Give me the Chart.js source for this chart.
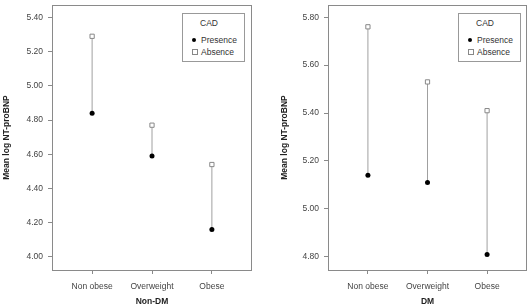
<!DOCTYPE html>
<html>
<head>
<meta charset="utf-8">
<script src="https://cdn.jsdelivr.net/npm/chart.js@4/dist/chart.umd.min.js"></script>
<style>
  body { margin: 0; background: #fff; }
  #wrap { position: relative; width: 532px; height: 307px; }
  #wrap canvas { position: absolute; top: 0; }
  .legend { position: absolute; top: 13px; width: 61px; height: 47px; border: 1px solid #999; background: #fff;
    font: 8.5px "Liberation Sans", Arial, sans-serif; color: #333; }
  .legend .ttl { position: absolute; left: 17px; top: 4px; }
  .legend .row { position: absolute; left: 18px; }
  .legend .dot { position: absolute; left: -9px; top: 3px; width: 4px; height: 4px; border-radius: 50%; background: #000; }
  .legend .sq { position: absolute; left: -9px; top: 2px; width: 4px; height: 4px; border: 1px solid #888; background: #fff; }
</style>
</head>
<body>
<div id="wrap">
  <canvas id="chartNonDM" width="266" height="307" style="left:0"></canvas>
  <canvas id="chartDM" width="266" height="307" style="left:266px"></canvas>
</div>
<script>
  // data
  var categories = ['Non obese', 'Overweight', 'Obese'];
  var nonDmPresence = [4.84, 4.59, 4.16];
  var nonDmAbsence = [5.29, 4.77, 4.54];
  var dmPresence = [5.14, 5.11, 4.81];
  var dmAbsence = [5.76, 5.53, 5.41];
  var nonDmTicks = [4.00, 4.20, 4.40, 4.60, 4.80, 5.00, 5.20, 5.40];
  var dmTicks = [4.80, 5.00, 5.20, 5.40, 5.60, 5.80];

  var font = '"Liberation Sans", Arial, sans-serif';
  var lineColor = '#a0a0a0';
  var boxColor = '#8a8a8a';

  // frame round the plot area
  var boxPlugin = {
    id: 'box',
    beforeDatasetsDraw: function (chart) {
      var a = chart.chartArea;
      var ctx = chart.ctx;
      ctx.save();
      ctx.strokeStyle = boxColor;
      ctx.lineWidth = 1;
      ctx.strokeRect(Math.round(a.left) + 0.5, Math.round(a.top) + 0.5,
        Math.round(a.right - a.left) - 1, Math.round(a.bottom - a.top));
      ctx.restore();
    }
  };

  function makeChart(id, presence, absence, yTicks, yMin, yMax, title, opts) {
    var ctx = document.getElementById(id).getContext('2d');

    // one grey stick per category, from presence to absence
    var sticks = categories.map(function (c, i) {
      return {
        type: 'line',
        data: [{ x: i, y: presence[i] }, { x: i, y: absence[i] }],
        borderColor: lineColor,
        borderWidth: 1,
        pointRadius: 0,
        order: 3
      };
    });

    return new Chart(ctx, {
      type: 'scatter',
      data: {
        datasets: sticks.concat([
          {
            label: 'Absence',
            data: absence.map(function (v, i) { return { x: i, y: v }; }),
            pointStyle: 'rect',
            pointRadius: 3,
            backgroundColor: '#fff',
            borderColor: '#888',
            borderWidth: 1,
            order: 1
          },
          {
            label: 'Presence',
            data: presence.map(function (v, i) { return { x: i, y: v }; }),
            pointStyle: 'circle',
            pointRadius: 2.5,
            backgroundColor: '#000',
            borderColor: '#000',
            borderWidth: 0,
            order: 1
          }
        ])
      },
      options: {
        responsive: false,
        animation: false,
        layout: { padding: { left: opts.padLeft, right: opts.padRight, top: 3, bottom: 0 } },
        plugins: { legend: { display: false }, tooltip: { enabled: false } },
        scales: {
          x: {
            type: 'linear',
            min: -0.67,
            max: 2.67,
            afterBuildTicks: function (scale) {
              scale.ticks = categories.map(function (c, i) { return { value: i }; });
            },
            afterFit: function (scale) { scale.height = 37; scale.paddingLeft = 0; scale.paddingRight = 0; },
            border: { display: false },
            grid: { drawOnChartArea: false, drawTicks: true, tickLength: 4, color: boxColor },
            ticks: {
              autoSkip: false, maxRotation: 0, padding: 8, color: '#444',
              font: { family: font, size: 8.5 },
              callback: function (v) { return categories[v]; }
            },
            title: {
              display: true, text: title, color: '#222',
              font: { family: font, size: 8.5, weight: 'bold' },
              padding: { top: 4, bottom: 0 }
            }
          },
          y: {
            min: yMin,
            max: yMax,
            afterBuildTicks: function (scale) {
              scale.ticks = yTicks.map(function (v) { return { value: v }; });
            },
            afterFit: function (scale) { scale.width = opts.yWidth; scale.paddingTop = 0; scale.paddingBottom = 0; },
            border: { display: false },
            grid: { drawOnChartArea: false, drawTicks: true, tickLength: 4, color: boxColor },
            ticks: {
              padding: 5, color: '#444',
              font: { family: font, size: 8.5 },
              callback: function (v) { return v.toFixed(2); }
            },
            title: {
              display: true, text: 'Mean log NT-proBNP', color: '#222',
              font: { family: font, size: 8.5, weight: 'bold' },
              padding: { top: 2, bottom: 0 }
            }
          }
        }
      },
      plugins: [boxPlugin]
    });
  }

  makeChart('chartNonDM', nonDmPresence, nonDmAbsence, nonDmTicks, 3.923, 5.473, 'Non-DM',
    { padLeft: 0, padRight: 14, yWidth: 52 });
  makeChart('chartDM', dmPresence, dmAbsence, dmTicks, 4.745, 5.851, 'DM',
    { padLeft: 12, padRight: 4, yWidth: 50 });

  // legends sit inside the plot frame, top right
  function addLegend(left) {
    var div = document.createElement('div');
    div.className = 'legend';
    div.style.left = left + 'px';
    div.innerHTML = '<span class="ttl">CAD</span>' +
      '<span class="row" style="top:21px"><i class="dot"></i>Presence</span>' +
      '<span class="row" style="top:33px"><i class="sq"></i>Absence</span>';
    document.getElementById('wrap').appendChild(div);
  }
  addLegend(182);
  addLegend(458);
</script>
</body>
</html>
